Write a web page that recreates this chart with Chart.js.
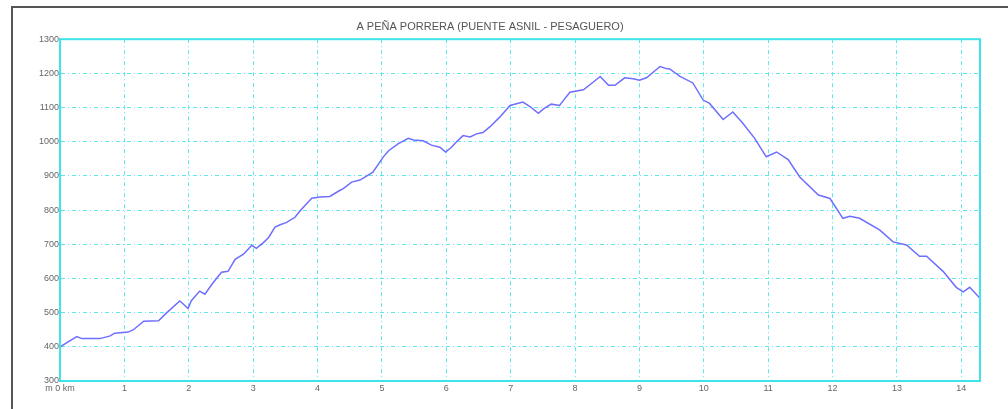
<!DOCTYPE html>
<html>
<head>
<meta charset="utf-8">
<script src="https://cdn.jsdelivr.net/npm/chart.js@4"></script>
<style>
  html, body { margin: 0; padding: 0; background: #fff; }
  #wrap { position: relative; width: 1008px; height: 409px; overflow: hidden; }
  #frame { position: absolute; left: 11px; top: 6px; right: -4px; bottom: -4px;
           border-left: 2px solid #555; border-top: 2px solid #555; }
  #box { position: absolute; left: 0; top: 0; width: 1008px; height: 409px; }
</style>
</head>
<body>
<div id="wrap">
  <div id="frame"></div>
  <div id="box"><canvas id="profile"></canvas></div>
</div>
<script>
const TITLE = "A PEÑA PORRERA (PUENTE ASNIL - PESAGUERO)";

// distance from start (km)
const kms = [
  0.00, 0.26, 0.34, 0.62, 0.78, 0.85, 1.06, 1.14, 1.30, 1.53,
  1.66, 1.86, 1.91, 1.99, 2.04, 2.17, 2.25, 2.38, 2.51, 2.61,
  2.72, 2.85, 2.98, 3.05, 3.16, 3.24, 3.34, 3.42, 3.52, 3.65,
  3.73, 3.91, 4.04, 4.19, 4.35, 4.40, 4.53, 4.66, 4.86, 5.02,
  5.10, 5.25, 5.41, 5.49, 5.64, 5.77, 5.90, 5.99, 6.08, 6.16,
  6.26, 6.37, 6.47, 6.57, 6.68, 6.83, 6.99, 7.09, 7.19, 7.30,
  7.43, 7.51, 7.63, 7.76, 7.82, 7.92, 8.13, 8.28, 8.39, 8.52,
  8.62, 8.77, 8.90, 9.00, 9.11, 9.32, 9.42, 9.47, 9.63, 9.83,
  9.99, 10.09, 10.30, 10.45, 10.59, 10.79, 10.97, 11.13, 11.31, 11.49,
  11.78, 11.96, 12.16, 12.27, 12.42, 12.73, 12.94, 13.15, 13.35, 13.46,
  13.72, 13.92, 14.03, 14.13, 14.29
];

// altitude (m)
const elevations = [
  400, 430, 424, 424, 432, 440, 443, 450, 475, 476,
  500, 534, 526, 512, 535, 563, 554, 588, 618, 621,
  656, 671, 697, 688, 705, 720, 750, 757, 764, 779,
  798, 835, 838, 840, 858, 863, 882, 888, 911, 955,
  973, 994, 1010, 1005, 1003, 990, 984, 970, 984, 1000,
  1018, 1014, 1023, 1027, 1044, 1072, 1106, 1111, 1116, 1103,
  1083, 1096, 1110, 1106, 1121, 1145, 1152, 1174, 1191, 1165,
  1165, 1187, 1184, 1180, 1187, 1220, 1214, 1213, 1191, 1172,
  1122, 1112, 1065, 1087, 1058, 1010, 956, 970, 948, 897,
  844, 834, 776, 782, 776, 742, 707, 698, 665, 665,
  620, 574, 561, 574, 542
];

const xTicks = [0, 1, 2, 3, 4, 5, 6, 7, 8, 9, 10, 11, 12, 13, 14];
const xLabels = ["m 0 km", "1", "2", "3", "4", "5", "6", "7", "8", "9", "10", "11", "12", "13", "14"];
const yTicks = [300, 400, 500, 600, 700, 800, 900, 1000, 1100, 1200, 1300];

const CYAN = "#5fe8ec";

// solid cyan box round the plot area
const plotFrame = {
    id: "plotFrame",
    afterDraw(chart) {
        const a = chart.chartArea, ctx = chart.ctx;
        ctx.save();
        ctx.strokeStyle = "#3fe3ea";
        ctx.lineWidth = 2;
        ctx.strokeRect(a.left, a.top, a.right - a.left, a.bottom - a.top);
        ctx.restore();
    }
};

new Chart(document.getElementById("profile"), {
    type: "line",
    data: {
        datasets: [{
            data: kms.map((k, i) => ({ x: k, y: elevations[i] })),
            borderColor: "#6e6eff",
            borderWidth: 1.5,
            pointRadius: 0,
            tension: 0,
            fill: false
        }]
    },
    options: {
        responsive: true,
        maintainAspectRatio: false,
        animation: false,
        layout: { padding: { left: 0, right: 28, top: 0, bottom: 0 } },
        plugins: {
            legend: { display: false },
            tooltip: { enabled: false },
            title: {
                display: true,
                text: TITLE,
                color: "#555",
                font: { family: "Liberation Sans", size: 11, weight: "normal" },
                padding: { top: 20, bottom: 6 }
            }
        },
        scales: {
            x: {
                type: "linear",
                min: 0,
                max: 14.29,
                afterBuildTicks: s => { s.ticks = xTicks.map(v => ({ value: v })); },
                afterFit: s => { s.height = 28; },
                ticks: {
                    autoSkip: false,
                    maxRotation: 0,
                    padding: 2,
                    color: "#666",
                    font: { family: "Liberation Sans", size: 9 },
                    callback: v => xLabels[xTicks.indexOf(v)]
                },
                grid: { color: CYAN, lineWidth: 1, drawTicks: false },
                border: { color: CYAN, width: 2, dash: [4, 3, 1, 3] }
            },
            y: {
                min: 300,
                max: 1300,
                afterBuildTicks: s => { s.ticks = yTicks.map(v => ({ value: v })); },
                afterFit: s => { s.width = 60; },
                ticks: {
                    padding: 1,
                    color: "#666",
                    font: { family: "Liberation Sans", size: 9 },
                    callback: v => String(v)
                },
                grid: { color: CYAN, lineWidth: 1, drawTicks: false },
                border: { color: CYAN, width: 2, dash: [4, 3, 1, 3] }
            }
        }
    },
    plugins: [plotFrame]
});
</script>
</body>
</html>
